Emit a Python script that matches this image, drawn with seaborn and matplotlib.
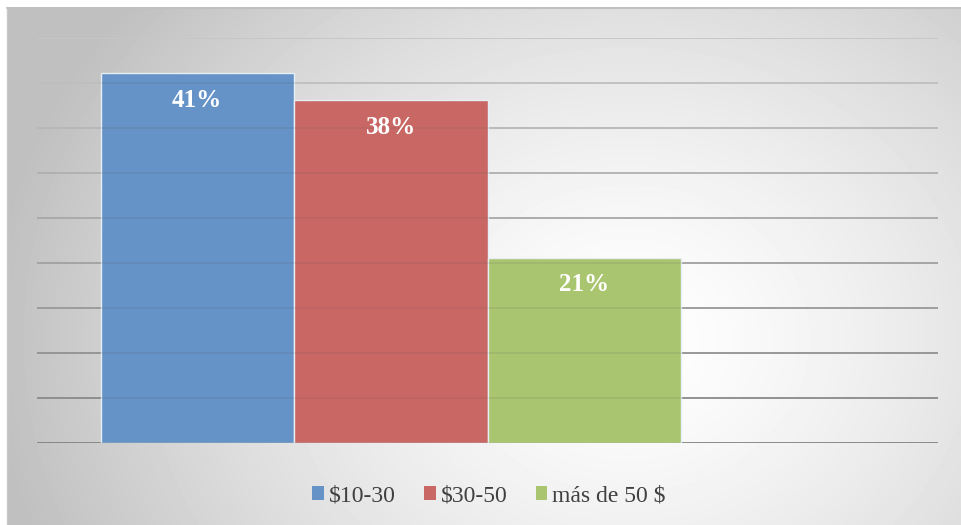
import numpy as np
import pandas as pd
import matplotlib.pyplot as plt
import seaborn as sns
from matplotlib.patches import Patch

# Data
series = ["$10-30", "$30-50", "más de 50 $", "vacío"]
shares = [0.411, 0.381, 0.206, np.nan]
colors = ["#6592c7", "#c96764", "#a9c570", "#9a85b8"]
legend_labels = ["\\$10-30", "\\$30-50", "más de 50 \\$"]
yticks = np.arange(0, 0.4501, 0.05)

df = pd.DataFrame({"grupo": ["precio"] * 4, "serie": series, "valor": shares})

sns.set_style("white")
plt.rcParams["font.family"] = ["Liberation Serif", "DejaVu Serif"]

fig = plt.figure(figsize=(9.61, 5.25), dpi=100)

# Radial gradient background of the chart area
bg = fig.add_axes([7 / 961, 0, 954 / 961, 517 / 525])
h, w = 517, 954
yy, xx = np.mgrid[0:h, 0:w]
cx, cy = 620, 330
r = np.sqrt(((xx - cx) / 640.0) ** 2 + ((yy - cy) / 540.0) ** 2)
shade = 1 - 0.25 * np.clip(r, 0, 1) ** 1.4
bg.imshow(shade, cmap="gray", vmin=0, vmax=1, aspect="auto", interpolation="bilinear")
bg.set_axis_off()
fig.add_artist(plt.Line2D([7 / 961, 1], [1 - 8 / 525, 1 - 8 / 525], color="#c0c0c0", lw=1.5))
fig.add_artist(plt.Line2D([7 / 961, 7 / 961], [0, 1 - 8 / 525], color="#c8c8c8", lw=1.0))

ax = fig.add_axes([37 / 961, 1 - 443 / 525, 901 / 961, 405 / 525])
ax.set_facecolor("none")

# gridlines fade toward the top, as in the original
for i, t in enumerate(yticks):
    g = 0.54 + 0.30 * i / (len(yticks) - 1)
    ax.axhline(t, color=(g, g, g), lw=1.3, zorder=0)
    ax.axhline(t, color="#555555", lw=1.3, alpha=0.12, zorder=3)

sns.barplot(data=df, x="grupo", y="valor", hue="serie", hue_order=series,
            palette=colors, saturation=1, width=774 / 901, edgecolor="#e8eef6",
            linewidth=1.0, ax=ax, legend=False, zorder=2, errorbar=None)

ax.set_xlim(-0.5, 0.5)
ax.set_ylim(0, 0.45)
ax.set_xticks([])
ax.set_yticks([])
ax.set_xlabel("")
ax.set_ylabel("")
for s in ax.spines.values():
    s.set_visible(False)

for p in ax.patches:
    hgt = p.get_height()
    if np.isnan(hgt) or hgt <= 0:
        continue
    ax.annotate(f"{hgt:.0%}", xy=(p.get_x() + p.get_width() / 2, hgt),
                xytext=(0, -19.5), textcoords="offset points",
                ha="center", va="center", color="white",
                fontsize=18, fontweight="bold", zorder=5)

handles = [Patch(facecolor=c, edgecolor="none") for c in colors[:3]]
fig.legend(handles, legend_labels, loc="center", bbox_to_anchor=(489 / 961, 1 - 496 / 525),
           ncol=3, frameon=False, fontsize=17, handlelength=0.5, handleheight=0.5,
           handletextpad=0.2, columnspacing=1.2, labelcolor="#404040")

fig.savefig("out.png", dpi=100)
